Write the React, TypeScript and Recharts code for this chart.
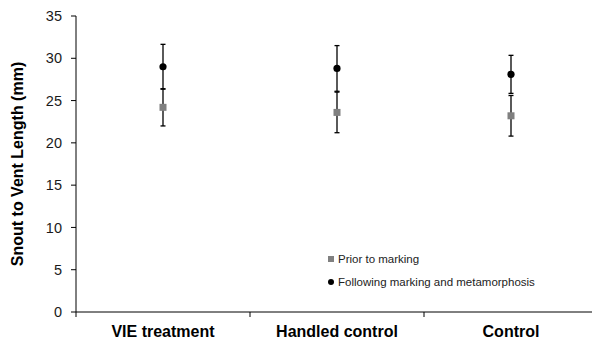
import { ScatterChart, Scatter, XAxis, YAxis, ErrorBar } from 'recharts';

const categories = ['VIE treatment', 'Handled control', 'Control'];
const xPositions = [0.5, 1.5, 2.5];
const priorMean = [24.2, 23.6, 23.2];
const priorErr = [2.2, 2.4, 2.4];
const followMean = [29.0, 28.8, 28.1];
const followErr = [2.65, 2.7, 2.25];
const yTicks = [0, 5, 10, 15, 20, 25, 30, 35];
const xTicks = [0, 0.5, 1, 1.5, 2, 2.5, 3];

const priorData = categories.map((c, i) => ({ name: c, x: xPositions[i], y: priorMean[i], err: priorErr[i] }));
const followData = categories.map((c, i) => ({ name: c, x: xPositions[i], y: followMean[i], err: followErr[i] }));

const FONT = '"Liberation Sans", Arial, sans-serif';

const SquareDot = (props: any) => {
  const { cx, cy } = props;
  return <rect x={cx - 3.5} y={cy - 3.5} width={7} height={7} fill="#808080" />;
};

const CircleDot = (props: any) => {
  const { cx, cy } = props;
  return <circle cx={cx} cy={cy} r={3.6} fill="#000" />;
};

const XTick = (props: any) => {
  const { x, y, payload } = props;
  const v = payload.value;
  if (Number.isInteger(v)) {
    return <line x1={x} x2={x} y1={y} y2={y + 5} stroke="#000" strokeWidth={1} />;
  }
  const idx = xPositions.indexOf(v);
  return (
    <text x={x} y={y + 25} textAnchor="middle" fontFamily={FONT} fontSize={16} fontWeight="bold" fill="#000">
      {categories[idx]}
    </text>
  );
};

export default function App() {
  return (
    <div style={{ position: 'absolute', left: 0, top: 0, width: 592, height: 342, overflow: 'hidden', background: '#fff' }}>
      <ScatterChart width={600} height={342} margin={{ top: 16, right: 2, bottom: 0, left: 0 }}>
        <XAxis
          type="number"
          dataKey="x"
          domain={[0, 3]}
          ticks={xTicks}
          interval={0}
          tick={<XTick />}
          tickLine={false}
          tickSize={0}
          tickMargin={0}
          height={30}
          axisLine={{ stroke: '#000', strokeWidth: 1 }}
        />
        <YAxis
          type="number"
          dataKey="y"
          domain={[0, 35]}
          ticks={yTicks}
          interval={0}
          width={76}
          tickSize={5}
          tickMargin={9}
          axisLine={{ stroke: '#000', strokeWidth: 1 }}
          tickLine={{ stroke: '#000', strokeWidth: 1 }}
          tick={{ fill: '#1a1a1a', fontSize: 14.5, fontFamily: FONT }}
          label={{
            content: () => (
              <text
                x={17}
                y={164}
                transform="rotate(-90, 17, 164)"
                textAnchor="middle"
                dominantBaseline="central"
                fontFamily={FONT}
                fontSize={16}
                fontWeight="bold"
                fill="#000"
              >
                Snout to Vent Length (mm)
              </text>
            ),
          }}
        />
        <Scatter data={followData} shape={<CircleDot />} isAnimationActive={false}>
          <ErrorBar dataKey="err" direction="y" width={2.5} stroke="#000" strokeWidth={1.3} />
        </Scatter>
        <Scatter data={priorData} shape={<SquareDot />} isAnimationActive={false}>
          <ErrorBar dataKey="err" direction="y" width={2.5} stroke="#000" strokeWidth={1.3} />
        </Scatter>
      </ScatterChart>
      <div style={{ position: 'absolute', left: 328, top: 249, fontFamily: FONT, fontSize: 11.5, color: '#222' }}>
        <div style={{ display: 'flex', alignItems: 'center', height: 19 }}>
          <span style={{ display: 'inline-block', width: 6, height: 6, background: '#808080', marginRight: 4 }} />
          Prior to marking
        </div>
        <div style={{ display: 'flex', alignItems: 'center', height: 19, marginTop: 4 }}>
          <span style={{ display: 'inline-block', width: 6, height: 6, borderRadius: '50%', background: '#000', marginRight: 4 }} />
          Following marking and metamorphosis
        </div>
      </div>
    </div>
  );
}
